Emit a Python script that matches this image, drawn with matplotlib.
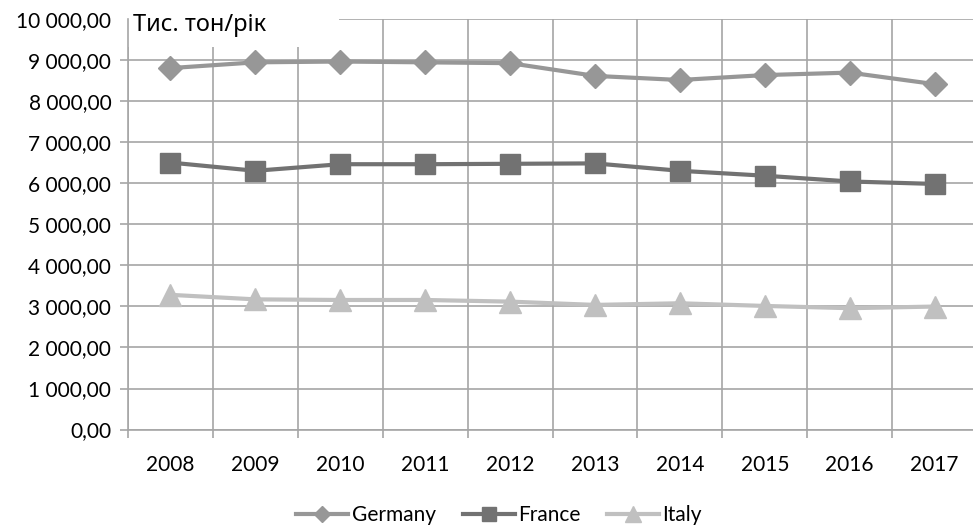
import matplotlib
matplotlib.use("Agg")
import matplotlib.pyplot as plt
from matplotlib.patches import Rectangle
from matplotlib.ticker import FuncFormatter, FixedLocator

# data (thousand tonnes per year)
years = ["2008", "2009", "2010", "2011", "2012", "2013", "2014", "2015", "2016", "2017"]
germany = [8800, 8940, 8960, 8940, 8920, 8610, 8510, 8630, 8690, 8410]
france = [6500, 6300, 6460, 6460, 6470, 6480, 6300, 6180, 6040, 5980]
italy = [3280, 3170, 3155, 3155, 3115, 3035, 3075, 3010, 2955, 2995]
series_names = ["Germany", "France", "Italy"]
unit_label = "Тис. тон/рік"

plt.rcParams['font.family'] = ['Lato', 'Noto Sans', 'DejaVu Sans']

fig = plt.figure(figsize=(9.73, 5.28), dpi=100)
ax = fig.add_axes([128 / 973, 0.1864, 849 / 973, 0.778])

grid_col = "#a6a6a6"
x = list(range(len(years)))

ax.plot(x, germany, color="#979797", lw=3, marker="D", ms=12, mec="#979797",
        label=series_names[0], zorder=3)
ax.plot(x, france, color="#727272", lw=3, marker="s", ms=14, mec="#727272",
        label=series_names[1], zorder=3)
ax.plot(x, italy, color="#c0c0c0", lw=3, marker="^", ms=16, mec="#c0c0c0",
        label=series_names[2], zorder=3)

ax.set_xlim(-0.5, len(years) - 0.5)
ax.set_ylim(0, 10000)
ax.set_yticks(range(0, 10001, 1000))
ax.yaxis.set_major_formatter(FuncFormatter(
    lambda v, p: "{:,.2f}".format(v).replace(",", " ").replace(".", ",")))
ax.set_xticks(x)
ax.set_xticklabels(years)
ax.xaxis.set_minor_locator(FixedLocator([i - 0.5 for i in range(len(years) + 1)]))

ax.grid(True, axis="y", which="major", color=grid_col, lw=1.2)
ax.grid(True, axis="x", which="minor", color=grid_col, lw=1.2)
ax.tick_params(axis="x", which="major", length=0, pad=18, labelsize=15)
ax.tick_params(axis="x", which="minor", length=6, color=grid_col, width=1.2)
ax.tick_params(axis="y", length=6, color=grid_col, width=1.2, pad=6, labelsize=15)
for s in ["top", "right"]:
    ax.spines[s].set_visible(False)
for s in ["left", "bottom"]:
    ax.spines[s].set_color(grid_col)
    ax.spines[s].set_linewidth(1.2)
ax.set_axisbelow(True)

# white title area that hides the top gridline, as in the original
ax.add_patch(Rectangle((-0.01, 0.932), 0.258, 0.11, transform=ax.transAxes,
                       facecolor="white", edgecolor="none", clip_on=False, zorder=1))
ax.text(0.006, 0.985, unit_label, transform=ax.transAxes, fontsize=17,
        family=['Noto Sans', 'DejaVu Sans'], va="center", ha="left", zorder=5)

fig.legend(loc="center", bbox_to_anchor=(0.513, 0.025), ncol=3, frameon=False,
           fontsize=15, handlelength=2.5, handletextpad=0.15, columnspacing=1.3,
           markerscale=0.7)

fig.savefig("out.png", dpi=100)
